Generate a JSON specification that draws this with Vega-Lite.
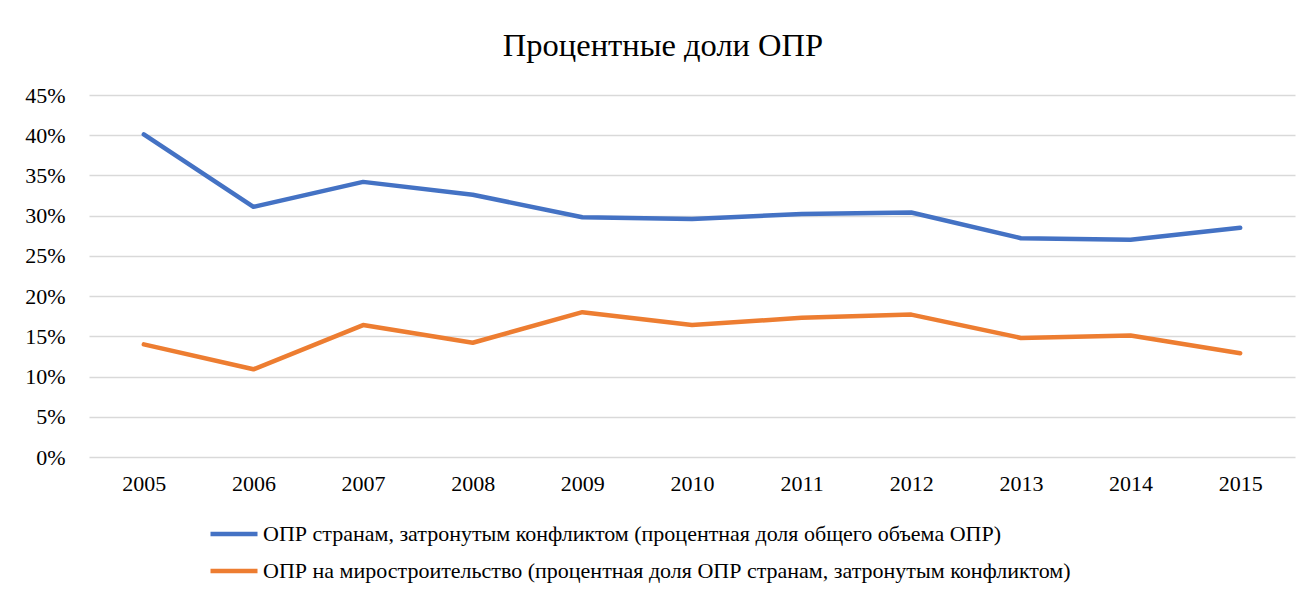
{
  "$schema": "https://vega.github.io/schema/vega-lite/v6.json",
  "autosize": "none",
  "width": 1206,
  "height": 362,
  "padding": {"left": 89, "top": 95, "right": 13, "bottom": 138},
  "background": "white",
  "title": {
    "text": "Процентные доли ОПР",
    "font": "Liberation Serif",
    "fontSize": 32.5,
    "fontWeight": "normal",
    "color": "#000000",
    "anchor": "middle",
    "dx": -29,
    "offset": 22
  },
  "data": {
    "values": [
      {"year": "2005", "series": "ОПР странам, затронутым конфликтом (процентная доля общего объема ОПР)", "value": 0.401},
      {"year": "2006", "series": "ОПР странам, затронутым конфликтом (процентная доля общего объема ОПР)", "value": 0.311},
      {"year": "2007", "series": "ОПР странам, затронутым конфликтом (процентная доля общего объема ОПР)", "value": 0.342},
      {"year": "2008", "series": "ОПР странам, затронутым конфликтом (процентная доля общего объема ОПР)", "value": 0.326},
      {"year": "2009", "series": "ОПР странам, затронутым конфликтом (процентная доля общего объема ОПР)", "value": 0.298},
      {"year": "2010", "series": "ОПР странам, затронутым конфликтом (процентная доля общего объема ОПР)", "value": 0.296},
      {"year": "2011", "series": "ОПР странам, затронутым конфликтом (процентная доля общего объема ОПР)", "value": 0.302},
      {"year": "2012", "series": "ОПР странам, затронутым конфликтом (процентная доля общего объема ОПР)", "value": 0.304},
      {"year": "2013", "series": "ОПР странам, затронутым конфликтом (процентная доля общего объема ОПР)", "value": 0.272},
      {"year": "2014", "series": "ОПР странам, затронутым конфликтом (процентная доля общего объема ОПР)", "value": 0.270},
      {"year": "2015", "series": "ОПР странам, затронутым конфликтом (процентная доля общего объема ОПР)", "value": 0.285},
      {"year": "2005", "series": "ОПР на миростроительство (процентная доля ОПР странам, затронутым конфликтом)", "value": 0.140},
      {"year": "2006", "series": "ОПР на миростроительство (процентная доля ОПР странам, затронутым конфликтом)", "value": 0.109},
      {"year": "2007", "series": "ОПР на миростроительство (процентная доля ОПР странам, затронутым конфликтом)", "value": 0.164},
      {"year": "2008", "series": "ОПР на миростроительство (процентная доля ОПР странам, затронутым конфликтом)", "value": 0.142},
      {"year": "2009", "series": "ОПР на миростроительство (процентная доля ОПР странам, затронутым конфликтом)", "value": 0.180},
      {"year": "2010", "series": "ОПР на миростроительство (процентная доля ОПР странам, затронутым конфликтом)", "value": 0.164},
      {"year": "2011", "series": "ОПР на миростроительство (процентная доля ОПР странам, затронутым конфликтом)", "value": 0.173},
      {"year": "2012", "series": "ОПР на миростроительство (процентная доля ОПР странам, затронутым конфликтом)", "value": 0.177},
      {"year": "2013", "series": "ОПР на миростроительство (процентная доля ОПР странам, затронутым конфликтом)", "value": 0.148},
      {"year": "2014", "series": "ОПР на миростроительство (процентная доля ОПР странам, затронутым конфликтом)", "value": 0.151},
      {"year": "2015", "series": "ОПР на миростроительство (процентная доля ОПР странам, затронутым конфликтом)", "value": 0.129}
    ]
  },
  "mark": {"type": "line", "strokeWidth": 4.5, "strokeCap": "round", "strokeJoin": "round"},
  "encoding": {
    "x": {
      "field": "year",
      "type": "ordinal",
      "scale": {"type": "point", "padding": 0.5},
      "axis": {
        "title": null,
        "labelAngle": 0,
        "ticks": false,
        "domain": false,
        "grid": false,
        "labelFont": "Liberation Serif",
        "labelFontSize": 22,
        "labelColor": "#000000",
        "labelPadding": 16
      }
    },
    "y": {
      "field": "value",
      "type": "quantitative",
      "scale": {"domain": [0, 0.45], "nice": false},
      "axis": {
        "title": null,
        "format": ".0%",
        "values": [0, 0.05, 0.1, 0.15, 0.2, 0.25, 0.3, 0.35, 0.4, 0.45],
        "ticks": false,
        "domain": false,
        "grid": true,
        "gridColor": "#d9d9d9",
        "gridWidth": 1.5,
        "labelFont": "Liberation Serif",
        "labelFontSize": 22,
        "labelColor": "#000000",
        "labelPadding": 24
      }
    },
    "color": {
      "field": "series",
      "type": "nominal",
      "sort": [
        "ОПР странам, затронутым конфликтом (процентная доля общего объема ОПР)",
        "ОПР на миростроительство (процентная доля ОПР странам, затронутым конфликтом)"
      ],
      "scale": {"range": ["#4472C4", "#ED7D31"]},
      "legend": {
        "title": null,
        "orient": "none",
        "legendX": 119,
        "legendY": 413,
        "direction": "vertical",
        "symbolType": "stroke",
        "symbolSize": 2209,
        "symbolStrokeWidth": 4.5,
        "labelFont": "Liberation Serif",
        "labelFontSize": 22,
        "labelColor": "#000000",
        "labelLimit": 1200,
        "labelOffset": 3,
        "rowPadding": -3
      }
    }
  },
  "config": {
    "view": {"stroke": null}
  }
}
